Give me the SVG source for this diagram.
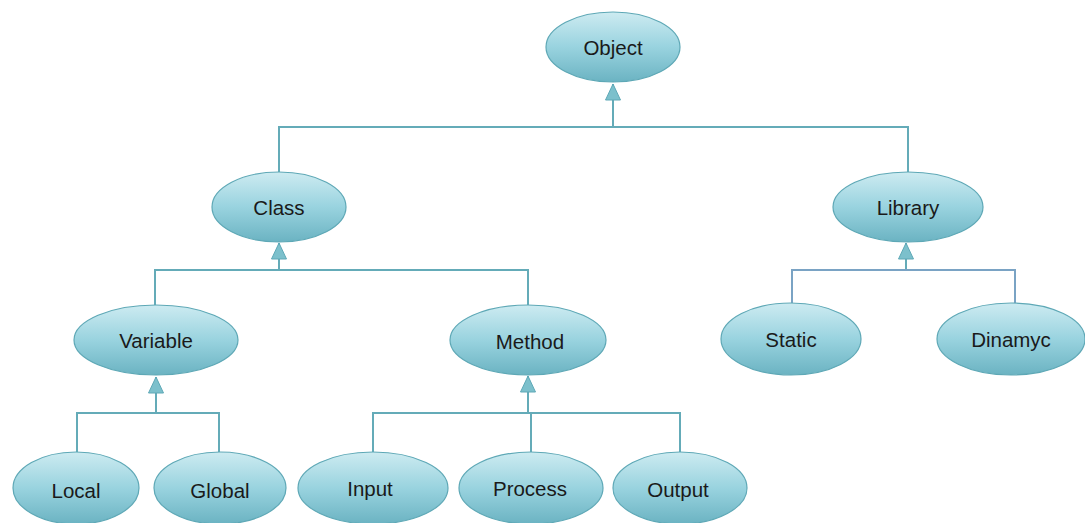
<svg xmlns="http://www.w3.org/2000/svg" width="1085" height="523" viewBox="0 0 1085 523">
<defs>
<linearGradient id="g" x1="0" y1="0" x2="0" y2="1">
<stop offset="0" stop-color="#cdebf1"/>
<stop offset="0.5" stop-color="#99d3df"/>
<stop offset="1" stop-color="#6bb3c2"/>
</linearGradient>
<marker id="tri" viewBox="0 0 18 16" refX="17" refY="8" markerWidth="18" markerHeight="16" markerUnits="userSpaceOnUse" orient="auto">
<path d="M17 8 L1 0.5 L1 15.5 Z" fill="#7cc0cc" stroke="#5ea8b6" stroke-width="1"/>
</marker>
</defs>
<style>
.n ellipse{fill:url(#g);stroke:#5ea8b6;stroke-width:1.2}
.n text{font-family:"Liberation Sans",Arial,sans-serif;font-size:20.5px;fill:#1a1a1a;text-anchor:middle;dominant-baseline:central}
.c path{fill:none;stroke:#64abb8;stroke-width:2}
</style>
<rect width="1085" height="523" fill="#ffffff"/>
<g class="c" id="connectors">
<path d="M613 127 V84" marker-end="url(#tri)"/>
<path d="M279 172 V127 H908 V172"/>
<path d="M279 270 V243" marker-end="url(#tri)"/>
<path d="M155 305 V270 H528 V305"/>
<path d="M906 270 V243" marker-end="url(#tri)"/>
<path d="M792 303 V270 H1015 V303" style="stroke:#7aa3c4"/>
<path d="M156 413 V377" marker-end="url(#tri)"/>
<path d="M77 452 V413 H219 V452"/>
<path d="M528 413 V376" marker-end="url(#tri)"/>
<path d="M373 452 V413 H680 V452"/>
<path d="M531 452 V413"/>
</g>
<g class="n" id="object"><ellipse cx="613" cy="47" rx="67" ry="35"/><text x="613" y="47">Object</text></g>
<g class="n" id="class"><ellipse cx="279" cy="207" rx="67" ry="35"/><text x="279" y="207">Class</text></g>
<g class="n" id="library"><ellipse cx="908" cy="207" rx="75" ry="35"/><text x="908" y="207">Library</text></g>
<g class="n" id="variable"><ellipse cx="156" cy="340" rx="82" ry="35"/><text x="156" y="340">Variable</text></g>
<g class="n" id="method"><ellipse cx="528" cy="340" rx="78" ry="35"/><text x="530" y="341">Method</text></g>
<g class="n" id="static"><ellipse cx="791" cy="339" rx="70" ry="36"/><text x="791" y="339">Static</text></g>
<g class="n" id="dinamyc"><ellipse cx="1011" cy="339" rx="74" ry="36"/><text x="1011" y="339">Dinamyc</text></g>
<g class="n" id="local"><ellipse cx="76" cy="488" rx="63" ry="36"/><text x="76" y="490">Local</text></g>
<g class="n" id="global"><ellipse cx="220" cy="488" rx="66" ry="36"/><text x="220" y="490">Global</text></g>
<g class="n" id="input"><ellipse cx="373" cy="488" rx="75" ry="36"/><text x="370" y="488">Input</text></g>
<g class="n" id="process"><ellipse cx="531" cy="488" rx="72" ry="36"/><text x="530" y="488">Process</text></g>
<g class="n" id="output"><ellipse cx="680" cy="488" rx="67" ry="36"/><text x="678" y="489">Output</text></g>
</svg>
